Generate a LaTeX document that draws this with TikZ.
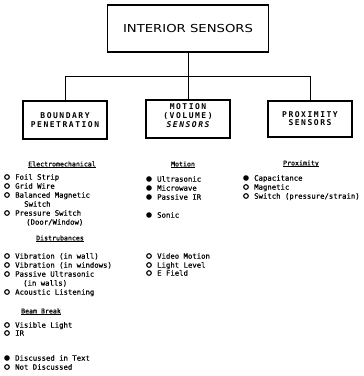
\documentclass[tikz,border=0pt]{standalone}
\usepackage{fontspec}
\newfontfamily\bodyf[FakeBold=0.5]{DejaVu Sans Mono}
\newfontfamily\boxf[LetterSpace=19]{DejaVu Sans Mono}
\newfontfamily\titf[FakeStretch=1.2]{DejaVu Sans}
\newcommand\bulF[4]{\node[fb] (#1b) at (#2,#3) {}; \node[it] (#1) at (#2+8,#3) {#4};}
\newcommand\bulO[4]{\node[ob] (#1b) at (#2,#3) {}; \node[it] (#1) at (#2+8,#3) {#4};}
\begin{document}
\begin{tikzpicture}[x=1pt,y=-1pt,
  bx/.style={draw, line width=1.5pt, inner sep=0pt, minimum width=84pt},
  bt/.style={inner sep=0pt, align=center, font=\boxf\bfseries\fontsize{8}{8.6}\selectfont},
  conn/.style={line width=1pt},
  fb/.style={circle, fill, inner sep=0pt, minimum size=5.6pt},
  ob/.style={circle, draw, line width=1.1pt, inner sep=0pt, minimum size=4.6pt},
  it/.style={anchor=west, inner sep=0pt, font=\bodyf\fontsize{7.3}{9}\selectfont, text height=5.3pt, text depth=0pt},
  hd/.style={inner sep=0pt, font=\bodyf\fontsize{6.6}{8}\selectfont, text height=4.8pt, text depth=0pt},
  ul/.style={line width=0.7pt}]
\useasboundingbox (0,0) rectangle (364,376);
% top box
\node[draw, line width=1.6pt, minimum width=161pt, minimum height=47pt, inner sep=0pt,
  font=\titf\fontsize{11}{13}\selectfont] (top) at (188,28.5) {INTERIOR SENSORS};
% category boxes
\node[bx, minimum height=38pt] (lbox) at (65,120) {};
\node[bx, minimum height=38pt] (mbox) at (188,119) {};
\node[bx, minimum height=36pt] (rbox) at (310,119) {};
\node[bt] (ltxt) at (65,120) {BOUNDARY\\PENETRATION};
\node[bt] (mtxt) at (188,115.5) {MOTION\\(VOLUME)\\{\itshape SENSORS}};
\node[bt] (rtxt) at (310,118.5) {PROXIMITY\\SENSORS};
% connectors
\coordinate (bus) at (188,76);
\draw[conn] (top.south) -- (mbox.north);
\draw[conn] (lbox.north) -- (lbox.north |- bus) -- (rbox.north |- bus) -- (rbox.north);
% left column
\node[hd] (h1) at (62,164) {Electromechanical};
\draw[ul] ([yshift=-1.2pt]h1.south west) -- ([yshift=-1.2pt]h1.south east);
\bulO{l1}{7}{177}{Foil Strip}
\bulO{l2}{7}{186}{Grid Wire}
\bulO{l3}{7}{195}{Balanced Magnetic}
\node[it] (l3c) at (24,204) {Switch};
\bulO{l4}{7}{213}{Pressure Switch}
\node[it] (l4c) at (26,222) {(Door/Window)};
\node[hd] (h2) at (60,238) {Distrubances};
\draw[ul] ([yshift=-1.2pt]h2.south west) -- ([yshift=-1.2pt]h2.south east);
\bulO{l5}{7}{256}{Vibration (in wall)}
\bulO{l6}{7}{265}{Vibration (in windows)}
\bulO{l7}{7}{274}{Passive Ultrasonic}
\node[it] (l7c) at (23,283) {(in walls)};
\bulO{l8}{7}{292}{Acoustic Listening}
\node[hd] (h3) at (41,311) {Beam Break};
\draw[ul] ([yshift=-1.2pt]h3.south west) -- ([yshift=-1.2pt]h3.south east);
\bulO{l9}{7}{325}{Visible Light}
\bulO{l10}{7}{333}{IR}
\bulF{k1}{7}{358}{Discussed in Text}
\bulO{k2}{7}{367}{Not Discussed}
% middle column
\node[hd] (h4) at (183,164) {Motion};
\draw[ul] ([yshift=-1.2pt]h4.south west) -- ([yshift=-1.2pt]h4.south east);
\bulF{m1}{149}{179}{Ultrasonic}
\bulF{m2}{149}{188}{Microwave}
\bulF{m3}{149}{197}{Passive IR}
\bulF{m4}{149}{215}{Sonic}
\bulO{m5}{149}{256}{Video Motion}
\bulO{m6}{149}{265}{Light Level}
\bulO{m7}{149}{273}{E Field}
% right column
\node[hd] (h5) at (301,163) {Proximity};
\draw[ul] ([yshift=-1.2pt]h5.south west) -- ([yshift=-1.2pt]h5.south east);
\bulF{r1}{246}{178}{Capacitance}
\bulO{r2}{246}{187}{Magnetic}
\bulO{r3}{246}{196}{Switch (pressure/strain)}
\end{tikzpicture}
\end{document}
